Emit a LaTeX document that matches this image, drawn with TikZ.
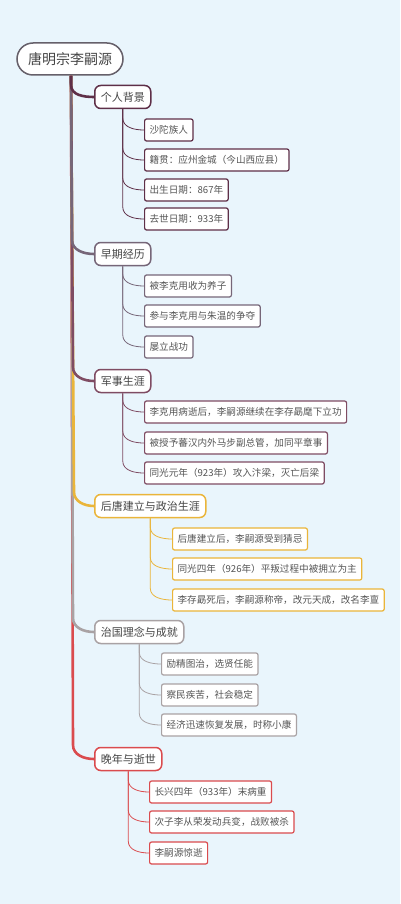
\documentclass[tikz,border=0pt]{standalone}
\usepackage{fontspec}
\setmainfont{Noto Sans CJK SC}
\definecolor{bg}{HTML}{E9F5FC}
\definecolor{rootc}{HTML}{66606A}
\definecolor{ca}{HTML}{5E2F48}
\definecolor{cb}{HTML}{766678}
\definecolor{cc}{HTML}{7F4C63}
\definecolor{cd}{HTML}{EAB53A}
\definecolor{ce}{HTML}{A9A2A4}
\definecolor{cf}{HTML}{DA4B4E}
\definecolor{txt}{HTML}{444444}
\definecolor{txtb}{HTML}{555555}
\begin{document}
\begin{tikzpicture}[x=1pt,y=1pt,
  root/.style={draw=rootc,line width=1.5pt,fill=white,rounded corners=16pt,minimum height=32pt,
    inner xsep=11pt,inner ysep=0pt,text=txt,font=\fontsize{14}{14}\selectfont},
  cat/.style={draw=#1,line width=1.5pt,fill=white,rounded corners=6pt,minimum height=23pt,
    inner xsep=6pt,inner ysep=0pt,anchor=west,text=txt,font=\fontsize{11}{11}\selectfont},
  leaf/.style={draw=#1,line width=1.2pt,fill=white,rounded corners=2pt,minimum height=22pt,
    inner xsep=5pt,inner ysep=0pt,anchor=west,text=txtb,font=\fontsize{9.6}{9.6}\selectfont},
  trunk/.style={draw=#1,line width=2.6pt},
  twig/.style={draw=#1,line width=0.8pt}]
  \fill[bg] (0,0) rectangle (400,-904);
  \useasboundingbox (0,0) rectangle (400,-904);

  % main topics
  \node[root] (root) at (70,-59) {唐明宗李嗣源};
  \node[cat=ca] (k1) at (94,-97) {个人背景};
  \node[cat=cb] (k2) at (94,-254) {早期经历};
  \node[cat=cc] (k3) at (94,-381) {军事生涯};
  \node[cat=cd] (k4) at (94,-506) {后唐建立与政治生涯};
  \node[cat=ce] (k5) at (94,-632) {治国理念与成就};
  \node[cat=cf] (k6) at (94,-759) {晚年与逝世};

  % trunk, longest first
  \draw[trunk=cf] ([xshift=1pt]root.south) -- ([xshift=3pt,yshift=14pt]root.south |- k6.west) to[out=-90,in=180] (k6.west);
  \draw[trunk=ce] ([xshift=1pt]root.south) -- ([xshift=3pt,yshift=14pt]root.south |- k5.west) to[out=-90,in=180] (k5.west);
  \draw[trunk=cd] ([xshift=1pt]root.south) -- ([xshift=4pt,yshift=14pt]root.south |- k4.west) to[out=-90,in=180] (k4.west);
  \draw[trunk=cc] ([xshift=1pt]root.south) -- ([xshift=3pt,yshift=14pt]root.south |- k3.west) to[out=-90,in=180] (k3.west);
  \draw[trunk=cb] ([xshift=1pt]root.south) -- ([xshift=2pt,yshift=14pt]root.south |- k2.west) to[out=-90,in=180] (k2.west);
  \draw[trunk=ca] ([xshift=1pt]root.south) -- ([xshift=1pt,yshift=12pt]root.south |- k1.west) to[out=-90,in=180] (k1.west);

  % leaves
  \node[leaf=ca] (a1) at (144,-130) {沙陀族人};
  \node[leaf=ca] (a2) at (144,-160) {籍贯：应州金城（今山西应县）};
  \node[leaf=ca] (a3) at (144,-190) {出生日期：867年};
  \node[leaf=ca] (a4) at (144,-219) {去世日期：933年};
  \node[leaf=cb] (b1) at (144,-286) {被李克用收为养子};
  \node[leaf=cb] (b2) at (144,-316) {参与李克用与朱温的争夺};
  \node[leaf=cb] (b3) at (144,-347) {屡立战功};
  \node[leaf=cc] (c1) at (144,-412) {李克用病逝后，李嗣源继续在李存勗麾下立功};
  \node[leaf=cc] (c2) at (144,-443) {被授予蕃汉内外马步副总管，加同平章事};
  \node[leaf=cc] (c3) at (144,-473) {同光元年（923年）攻入汴梁，灭亡后梁};
  \node[leaf=cd] (d1) at (172,-539) {后唐建立后，李嗣源受到猜忌};
  \node[leaf=cd] (d2) at (172,-569) {同光四年（926年）平叛过程中被拥立为主};
  \node[leaf=cd] (d3) at (172,-600) {李存勗死后，李嗣源称帝，改元天成，改名李亶};
  \node[leaf=ce] (e1) at (161,-664) {励精图治，选贤任能};
  \node[leaf=ce] (e2) at (161,-695) {察民疾苦，社会稳定};
  \node[leaf=ce] (e3) at (161,-725) {经济迅速恢复发展，时称小康};
  \node[leaf=cf] (f1) at (149,-792) {长兴四年（933年）末病重};
  \node[leaf=cf] (f2) at (149,-822) {次子李从荣发动兵变，战败被杀};
  \node[leaf=cf] (f3) at (149,-853) {李嗣源惊逝};

  % twigs
  \draw[twig=ca] (k1.south) -- ([yshift=12pt]k1.south |- a1.west) to[out=-90,in=180] (a1.west);
  \draw[twig=ca] (k1.south) -- ([yshift=12pt]k1.south |- a2.west) to[out=-90,in=180] (a2.west);
  \draw[twig=ca] (k1.south) -- ([yshift=12pt]k1.south |- a3.west) to[out=-90,in=180] (a3.west);
  \draw[twig=ca] (k1.south) -- ([yshift=12pt]k1.south |- a4.west) to[out=-90,in=180] (a4.west);
  \draw[twig=cb] (k2.south) -- ([yshift=12pt]k2.south |- b1.west) to[out=-90,in=180] (b1.west);
  \draw[twig=cb] (k2.south) -- ([yshift=12pt]k2.south |- b2.west) to[out=-90,in=180] (b2.west);
  \draw[twig=cb] (k2.south) -- ([yshift=12pt]k2.south |- b3.west) to[out=-90,in=180] (b3.west);
  \draw[twig=cc] (k3.south) -- ([yshift=12pt]k3.south |- c1.west) to[out=-90,in=180] (c1.west);
  \draw[twig=cc] (k3.south) -- ([yshift=12pt]k3.south |- c2.west) to[out=-90,in=180] (c2.west);
  \draw[twig=cc] (k3.south) -- ([yshift=12pt]k3.south |- c3.west) to[out=-90,in=180] (c3.west);
  \draw[twig=cd] (k4.south) -- ([yshift=12pt]k4.south |- d1.west) to[out=-90,in=180] (d1.west);
  \draw[twig=cd] (k4.south) -- ([yshift=12pt]k4.south |- d2.west) to[out=-90,in=180] (d2.west);
  \draw[twig=cd] (k4.south) -- ([yshift=12pt]k4.south |- d3.west) to[out=-90,in=180] (d3.west);
  \draw[twig=ce] (k5.south) -- ([yshift=12pt]k5.south |- e1.west) to[out=-90,in=180] (e1.west);
  \draw[twig=ce] (k5.south) -- ([yshift=12pt]k5.south |- e2.west) to[out=-90,in=180] (e2.west);
  \draw[twig=ce] (k5.south) -- ([yshift=12pt]k5.south |- e3.west) to[out=-90,in=180] (e3.west);
  \draw[twig=cf] (k6.south) -- ([yshift=12pt]k6.south |- f1.west) to[out=-90,in=180] (f1.west);
  \draw[twig=cf] (k6.south) -- ([yshift=12pt]k6.south |- f2.west) to[out=-90,in=180] (f2.west);
  \draw[twig=cf] (k6.south) -- ([yshift=12pt]k6.south |- f3.west) to[out=-90,in=180] (f3.west);
\end{tikzpicture}
\end{document}
